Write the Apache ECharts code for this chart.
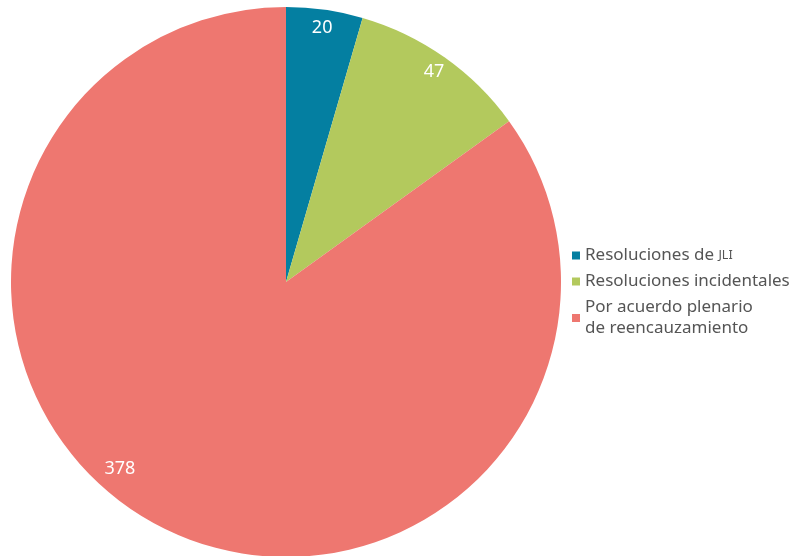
<!DOCTYPE html>
<html><head><meta charset="utf-8">
<script src="https://cdn.jsdelivr.net/npm/echarts@6/dist/echarts.min.js"></script>
<style>html,body{margin:0;padding:0;background:#fff}#c{width:796px;height:556px}</style>
</head><body><div id="c"></div>
<script>
const categories = ['Resoluciones de JLI', 'Resoluciones incidentales', 'Por acuerdo plenario\nde reencauzamiento'];
const values = [20, 47, 378];
const colors = ['#047fa1', '#b3c95d', '#ee7770'];
const labelOffsets = [[0, 0], [0, 0], [-49, -42]];

const chart = echarts.init(document.getElementById('c'));
const baseData = categories.map((n, i) => ({ name: n, value: values[i], itemStyle: { color: colors[i] } }));
const labelData = categories.map((n, i) => ({
  name: n, value: values[i],
  label: { offset: labelOffsets[i] }
}));
chart.setOption({
  animation: false,
  legend: {
    orient: 'vertical',
    left: 567, top: 240, padding: 5,
    itemWidth: 8, itemHeight: 8, itemGap: 5,
    icon: 'rect',
    textStyle: {
      color: '#555', fontSize: 17, fontFamily: 'Noto Sans', lineHeight: 21,
      rich: { sc: { fontSize: 12.5, color: '#555', fontFamily: 'Noto Sans', lineHeight: 21 } }
    },
    formatter: function (n) {
      if (n === 'Resoluciones de JLI') return 'Resoluciones de {sc|JLI}';
      return n;
    },
    data: categories
  },
  series: [
    {
      type: 'pie', center: [286, 282], radius: [0, 275], startAngle: 90,
      clockwise: true, label: { show: false }, labelLine: { show: false },
      data: baseData, silent: true
    },
    {
      type: 'pie', center: [286, 282], radius: [233, 275], startAngle: 90,
      clockwise: true, silent: true,
      itemStyle: { color: 'rgba(0,0,0,0)' },
      label: { show: true, position: 'inside', color: '#fff', fontSize: 18, fontFamily: 'Noto Sans', formatter: '{c}' },
      labelLine: { show: false },
      data: labelData,
      legendHoverLink: false
    }
  ]
});
</script></body></html>
